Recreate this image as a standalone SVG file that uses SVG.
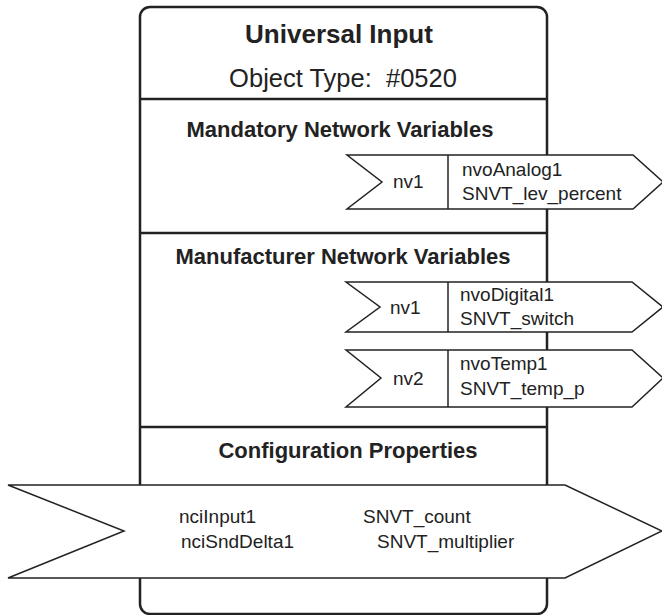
<svg xmlns="http://www.w3.org/2000/svg" width="662" height="615" viewBox="0 0 662 615">
<style>
.frame{fill:#fff;stroke:#222;stroke-width:2.5}
.div{stroke:#222;stroke-width:2.5;fill:none}
.tag{fill:#fff;stroke:#222;stroke-width:1.5;stroke-linejoin:miter}
.sep{stroke:#222;stroke-width:1.5}
text{font-family:"Liberation Sans",Arial,sans-serif;fill:#222}
.title{font-size:26px;font-weight:bold;text-anchor:middle}
.sub{font-size:25.5px;text-anchor:middle}
.head{font-size:22px;font-weight:bold;text-anchor:middle}
.nv{font-size:19px}
.cp{font-size:19px}
</style>
<rect width="662" height="615" fill="#fff"/>
<g id="object">
<rect class="frame" x="140" y="7" width="407" height="607" rx="10"/>
<text class="title" x="339" y="43">Universal Input</text>
<text class="sub" x="343" y="87" xml:space="preserve">Object Type:  #0520</text>
<line class="div" x1="140" y1="99" x2="547" y2="99"/>
</g>
<g id="mandatory">
<text class="head" x="340" y="137">Mandatory Network Variables</text>
<line class="div" x1="140" y1="233" x2="547" y2="233"/>
</g>
<g id="mand-nv1">
<polygon class="tag" points="347,155 633,155 663,182 633,209 347,209 382,182"/>
<line class="sep" x1="448" y1="155" x2="448" y2="209"/>
<text class="nv" x="393" y="188">nv1</text>
<text class="nv" x="462" y="176">nvoAnalog1</text>
<text class="nv" x="462" y="200">SNVT_lev_percent</text>
</g>
<g id="manufacturer">
<text class="head" x="343" y="264">Manufacturer Network Variables</text>
<line class="div" x1="140" y1="427" x2="547" y2="427"/>
</g>
<g id="manu-nv1">
<polygon class="tag" points="346,282 632,282 663,307 632,332 346,332 380,307"/>
<line class="sep" x1="448" y1="282" x2="448" y2="332"/>
<text class="nv" x="390" y="314">nv1</text>
<text class="nv" x="460" y="301">nvoDigital1</text>
<text class="nv" x="460" y="325">SNVT_switch</text>
</g>
<g id="manu-nv2">
<polygon class="tag" points="346,350 632,350 663,378 632,407 346,407 381,378"/>
<line class="sep" x1="448" y1="350" x2="448" y2="407"/>
<text class="nv" x="393" y="385">nv2</text>
<text class="nv" x="460" y="370">nvoTemp1</text>
<text class="nv" x="460" y="395">SNVT_temp_p</text>
</g>
<g id="configuration">
<text class="head" x="348" y="458">Configuration Properties</text>
</g>
<g id="config-props">
<polygon class="tag" points="8,485 565,485 662,531 565,578 8,578 124,531"/>
<text class="cp" x="179" y="523">nciInput1</text>
<text class="cp" x="363" y="523">SNVT_count</text>
<text class="cp" x="181" y="548">nciSndDelta1</text>
<text class="cp" x="377" y="548">SNVT_multiplier</text>
</g>
<g id="connectors"/>
</svg>
